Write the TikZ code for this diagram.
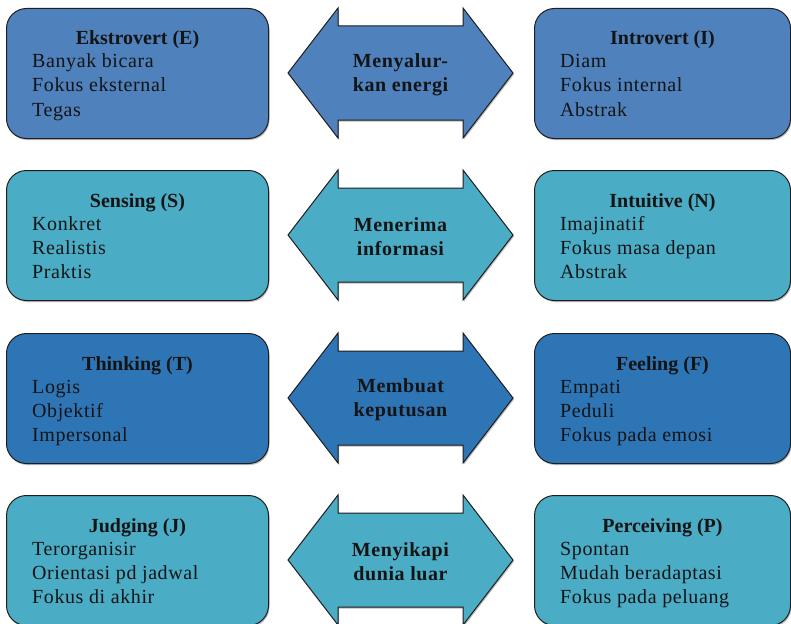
\documentclass[tikz,border=0pt]{standalone}
\usepackage{fontspec}
\setmainfont{Liberation Serif}
\newfontfamily\spacedserif[LetterSpace=3]{Liberation Serif}
\usetikzlibrary{shadows}

\definecolor{rowA}{HTML}{4F81BD}
\definecolor{rowB}{HTML}{4BACC6}
\definecolor{rowC}{HTML}{2E75B6}
\definecolor{edgeline}{HTML}{1E1E1E}
\definecolor{ink}{HTML}{141414}

\tikzset{
  card/.style={draw=edgeline, line width=1pt, rounded corners=20pt,
    minimum height=130pt, anchor=north west, inner sep=0pt,
    drop shadow={shadow xshift=1pt, shadow yshift=-1.5pt, opacity=0.45, fill=black!60}},
  leftcard/.style={card, minimum width=262pt},
  rightcard/.style={card, minimum width=256pt},
  cardtitle/.style={anchor=base, inner sep=0pt, text=ink,
    font=\fontsize{20}{24}\selectfont\bfseries},
  cardline/.style={anchor=base west, inner sep=0pt, text=ink,
    font=\spacedserif\fontsize{20}{24}\selectfont},
  arrowtext/.style={align=center, inner sep=0pt, text=ink,
    font=\spacedserif\fontsize{20}{24}\selectfont\bfseries},
  dblarrow/.style={draw=edgeline, line width=1pt, line join=miter,
    drop shadow={shadow xshift=1pt, shadow yshift=-1.5pt, opacity=0.45, fill=black!60}}
}

% one card: #1 name, #2 x, #3 y (top), #4 fill, #5 style, #6 title, #7-#9 lines
\newcommand{\mbticard}[9]{%
  \node[#5, fill=#4] (#1) at (#2,#3) {};
  \node[cardtitle] (#1-t) at ([yshift=-37pt]#1.north) {#6};
  \node[cardline] (#1-a) at ([xshift=26pt,yshift=-60pt]#1.north west) {#7};
  \node[cardline] (#1-b) at ([xshift=26pt,yshift=-84pt]#1.north west) {#8};
  \node[cardline] (#1-c) at ([xshift=26pt,yshift=-108pt]#1.north west) {#9};
}

% double-headed arrow between the two cards of a row: #1 name, #2 top y, #3 fill, #4 text
\newcommand{\mbtiarrow}[4]{%
  \path[dblarrow, fill=#3]
    (288,#2+65) -- (338,#2) -- (338,#2+18) -- (463,#2+18) -- (463,#2)
    -- (513,#2+65) -- (463,#2+130) -- (463,#2+112) -- (338,#2+112)
    -- (338,#2+130) -- cycle;
  \node[arrowtext] (#1) at (400.5,#2+66.5) {#4};
}

\begin{document}
\begin{tikzpicture}[x=1pt,y=-1pt]
  \useasboundingbox[fill=white] (0,0) rectangle (791,623);

  % row 1: energy
  \mbticard{E}{6}{8}{rowA}{leftcard}{Ekstrovert (E)}{Banyak bicara}{Fokus eksternal}{Tegas}
  \mbticard{I}{534}{8}{rowA}{rightcard}{Introvert (I)}{Diam}{Fokus internal}{Abstrak}
  \mbtiarrow{EI}{8}{rowA}{Menyalur-\\kan energi}

  % row 2: information
  \mbticard{S}{6}{170}{rowB}{leftcard}{Sensing (S)}{Konkret}{Realistis}{Praktis}
  \mbticard{N}{534}{170}{rowB}{rightcard}{Intuitive (N)}{Imajinatif}{Fokus masa depan}{Abstrak}
  \mbtiarrow{SN}{170}{rowB}{Menerima\\informasi}

  % row 3: decisions
  \mbticard{T}{6}{333}{rowC}{leftcard}{Thinking (T)}{Logis}{Objektif}{Impersonal}
  \mbticard{F}{534}{333}{rowC}{rightcard}{Feeling (F)}{Empati}{Peduli}{Fokus pada emosi}
  \mbtiarrow{TF}{333}{rowC}{Membuat\\keputusan}

  % row 4: outer world
  \mbticard{J}{6}{495}{rowB}{leftcard}{Judging (J)}{Terorganisir}{Orientasi pd jadwal}{Fokus di akhir}
  \mbticard{P}{534}{495}{rowB}{rightcard}{Perceiving (P)}{Spontan}{Mudah beradaptasi}{Fokus pada peluang}
  \mbtiarrow{JP}{495}{rowB}{Menyikapi\\dunia luar}
\end{tikzpicture}
\end{document}
